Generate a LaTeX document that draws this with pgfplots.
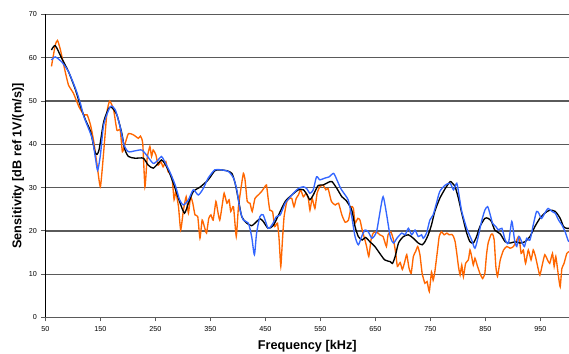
\documentclass[border=0pt]{standalone}
\usepackage{pgfplots}
\pgfplotsset{compat=1.18}
\usepackage{fontspec}
\setmainfont{Liberation Sans}
\definecolor{cblue}{HTML}{3366FF}
\definecolor{corange}{HTML}{FF6600}
\definecolor{cgrid}{HTML}{5A5A5A}
\begin{document}
\begin{tikzpicture}
\begin{axis}[
  scale only axis,
  width=523.6pt, height=303pt,
  xmin=50, xmax=1002, ymin=0, ymax=70,
  xtick={50,150,...,950}, ytick={0,10,...,70},
  axis lines*=left,
  x axis line style={cgrid, line width=1.8pt},
  y axis line style={black, line width=1pt},
  ymajorgrids, major grid style={cgrid, line width=1.2pt},
  tick align=outside, major tick length=4pt,
  tick style={cgrid, line width=0.9pt},
  /pgf/number format/assume math mode=true,
  /pgf/number format/1000 sep={},
  ticklabel style={font=\fontsize{7.2}{8}\selectfont},
  xticklabel style={yshift=-1pt},
  yticklabel style={xshift=-1pt},
  every axis x label/.style={at={(axis description cs:0.5,-0.094)}, anchor=center, font=\bfseries\fontsize{12.7}{14}\selectfont},
  every axis y label/.style={at={(axis description cs:-0.052,0.5)}, anchor=center, rotate=90, font=\bfseries\fontsize{12.7}{14}\selectfont},
  xlabel={Frequency [kHz]},
  ylabel={Sensitivity [dB ref 1V/(m/s)]},
  clip=true,
]
% orange
\addplot[corange, line width=1.35pt, smooth, tension=0.3] coordinates {
(61,58) (68,63) (72,64) (77,62) (86,56.8) (92,53.7) (101,51.8) (111,48.7) (120,46.8) (126,46.8)
(132,44.5) (138,40.6) (144,35.2) (150,30.2) (156,38.3) (162,47.5) (167,50) (174,48) (180,43.3) (186,43.3)
(190,38.3) (195,40.2) (201,42.5) (210,42.2) (219,41.4) (223,41.9) (227,40.2) (231,30.2) (235,36.8) (240,39.5)
(243,37.2) (246,38.7) (251,37.5) (255,35.2) (260,36) (264,34.8) (269,36) (273,33.7) (280,32.5) (284,27.2)
(287,29.1) (292,25.6) (296,20.2) (301,24.8) (306,27.9) (310,24.1) (314,27.9) (318,26.4) (322,23.7) (327,23.3)
(331,18.3) (335,22.5) (339,21) (343,19.5) (347,22.9) (351,23.7) (355,22.5) (360,26.8) (363,24.8) (367,22.5)
(372,26.4) (375,28.7) (380,26.4) (384,27.2) (387,24.5) (392,25.6) (397,18.7) (401,25.6) (406,30.2) (410,33.3)
(413,31.8) (417,26.8) (422,26.4) (426,24.5) (431,27.5) (437,28.3) (443,29.1) (449,30.2) (452,30.6) (455,27.5)
(458,24.8) (463,24.5) (467,21) (472,21.8) (475,17.9) (478,11.8) (481,17.9) (484,23.3) (489,26.8) (494,27.5)
(498,27.5) (502,25.6) (506,27.5) (510,28.3) (514,29.5) (519,27.9) (524,28.7) (528,27.5) (531,24.8) (535,27.5)
(540,25.2) (544,28.7) (549,30.2) (555,30.6) (560,29.5) (564,29.8) (570,26.8) (577,26) (583,26.4) (589,23.7)
(595,22) (601,22.5) (606,25.6) (610,25.2) (613,21.8) (618,22.9) (622,22.5) (626,20.2) (631,17.9) (634,16.4)
(638,14.1) (642,17.9) (646,19.5) (652,19.8) (658,19.1) (664,18.7) (670,16.4) (673,19.1) (678,19.8) (683,17.9)
(687,14.8) (690,11.8) (695,12.7) (699,11.1) (703,12.7) (707,14.5) (711,11.5) (715,10.2) (719,14.1) (723,15.2)
(727,16.4) (731,14.5) (735,10.2) (740,7.9) (744,8.3) (748,6) (752,10.5) (755,8.6) (758,10.5) (763,15.6)
(766,18.7) (770,19.8) (775,19.1) (780,19.5) (784,19.1) (789,19.2) (792,18.7) (795,17.5) (798,14.8) (801,11.8)
(804,9.8) (807,12.1) (810,9.4) (814,12.5) (819,13.3) (822,15.6) (825,14.1) (828,12.1) (831,13.7) (835,12.1)
(840,10.2) (845,9) (849,10.2) (852,14.5) (855,17.2) (860,19.1) (863,19.3) (866,17.9) (869,11.8) (872,9.5)
(877,13.3) (883,15.6) (889,16.4) (895,16) (901,16.4) (907,17.9) (911,18.7) (915,14.8) (919,15.6) (923,12.5)
(928,15.6) (933,13.3) (937,15.6) (941,14.1) (945,11.8) (949,9.8) (954,12.5) (958,14.5) (963,13.3) (967,12.5)
(972,14.8) (975,11.8) (978,14.1) (983,9.4) (986,7.1) (989,11.3) (993,12.5) (998,14.8) (1002,15.2)
};
% black
\addplot[black, line width=1.35pt, smooth, tension=0.4] coordinates {
(61,61.8) (68,62.8) (80,59.8) (92,56.8) (105,52.5) (114,48.7) (123,45.6) (132,43) (140,38.3) (144,37.7)
(148,39) (156,45.2) (165,48.3) (171,48.5) (180,46.8) (189,42.5) (194,39) (201,37.2) (213,36.8) (228,36.8)
(237,35.2) (246,34.5) (255,35.6) (261,36.4) (267,35.6) (276,33.3) (286,29.8) (295,26.4) (303,24.1) (310,26.4)
(319,29.1) (332,30.2) (346,31.8) (358,33.9) (367,34.1) (380,33.9) (389,33.3) (395,31) (401,27.2) (407,23.3)
(416,21.8) (425,21.2) (431,21.8) (440,22.8) (446,22.2) (455,20.6) (464,21.2) (474,23.7) (486,26.8) (498,28.3)
(510,29.5) (519,29.5) (526,28.3) (531,27.2) (537,28.3) (546,30.5) (555,30.6) (564,31.2) (571,31.4) (580,29.8)
(589,27.9) (597,27) (607,24.8) (613,21) (619,18.7) (626,17.9) (632,18.5) (640,17.5) (649,16.4) (658,14.8)
(667,13.3) (677,12.9) (681,12.5) (686,14.1) (692,17.2) (701,18.7) (710,19.1) (719,18.3) (728,17.2) (735,16.8)
(740,17.5) (746,19.1) (752,21.4) (758,24.5) (767,27.5) (777,29.8) (786,31.4) (790,31) (795,30.2) (801,27.5)
(807,24.1) (816,19.5) (822,17.5) (828,17.2) (834,18.7) (840,21) (849,22.9) (855,22.9) (861,22.2) (867,20.2)
(877,19.3) (886,17.5) (895,17.2) (904,17.5) (913,17.2) (922,17.5) (931,18.7) (940,21) (949,22.9) (958,24.1)
(967,24.8) (977,24.5) (986,22.9) (992,21) (998,20.6) (1002,20.6)
};
% blue
\addplot[cblue, line width=1.35pt, smooth, tension=0.4] coordinates {
(61,59.5) (68,60.2) (80,59) (92,56.8) (105,52.8) (114,49.3) (120,46.4) (135,41.4) (141,36.8) (145,34)
(150,37.5) (156,44.5) (168,48.7) (177,48) (186,44) (193,39.8) (201,38.3) (213,38.5) (225,38.7) (234,37.5)
(246,35.6) (255,36.4) (261,37.2) (267,36) (276,33.7) (286,30.6) (294,27.2) (301,26) (310,27.2) (319,29.5)
(328,28.3) (337,29.8) (346,32.2) (358,34.1) (370,34.1) (383,33.7) (392,32.2) (398,29.5) (404,24.8) (410,22.5)
(419,21.8) (425,18.7) (430,14.5) (434,19.5) (440,23.3) (446,23.7) (455,20.6) (463,21.6) (470,23.3) (477,23.7)
(486,26.4) (498,28.3) (510,29.8) (519,30.2) (525,29.8) (531,28.7) (537,29.5) (543,32.5) (549,31.8) (558,32.2)
(566,32.5) (574,33.3) (580,31.8) (587,29.8) (595,28.3) (601,27) (607,23.3) (613,18.7) (619,16.8) (625,18.7)
(631,20.2) (637,19.8) (644,18.3) (652,19.8) (658,24.1) (664,27.9) (670,24.1) (677,18.7) (683,17.2) (689,18.3)
(698,19.5) (704,19.1) (710,20.6) (716,19.1) (722,20.2) (728,18.7) (734,19.1) (737,18.3) (743,19.5) (749,22.5)
(755,23.7) (761,26.4) (767,29.1) (777,30.6) (786,31) (792,29.5) (798,31) (803,27.5) (807,24.5) (816,20.6)
(825,17.9) (831,16) (837,18.7) (843,22.2) (849,24.8) (854,25.6) (858,24.1) (863,21.8) (869,21) (874,20.2)
(880,20.6) (886,17.9) (892,17.2) (898,22.2) (903,17.9) (907,16.4) (911,18.7) (916,17.5) (921,16.4) (925,18.3)
(931,17.9) (937,21.4) (943,24.5) (947,24.1) (952,22.9) (958,24.1) (964,25.2) (971,24.5) (977,24.1) (983,22.5)
(989,21.4) (995,19.8) (1000,17.9) (1002,17.5)
};
\end{axis}
\path (current axis.south west) ++(-45.4pt,-36.5pt) coordinate (bbsw);
\path (current axis.north east) ++(0pt,14.5pt) coordinate (bbne);
\pgfresetboundingbox
\path[use as bounding box] (bbsw) rectangle (bbne);
\end{tikzpicture}
\end{document}
